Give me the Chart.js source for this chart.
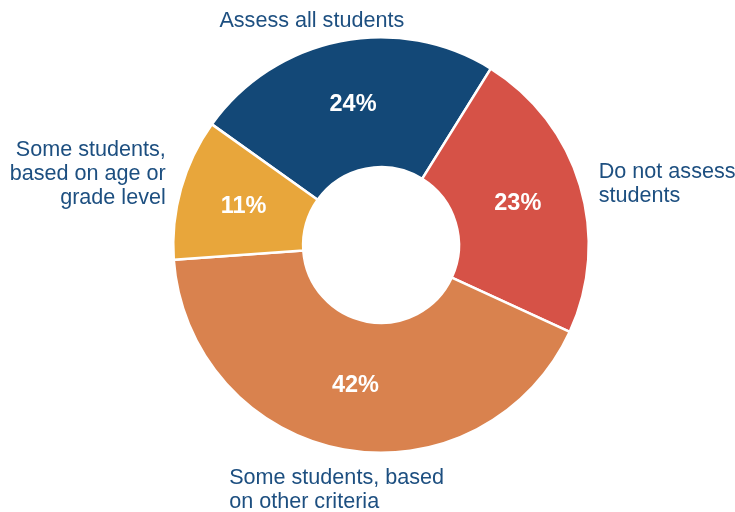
<!DOCTYPE html>
<html>
<head>
<meta charset="utf-8">
<script src="https://cdn.jsdelivr.net/npm/chart.js@4.4.1/dist/chart.umd.min.js"></script>
<style>
html,body{margin:0;padding:0;background:#fff;}
#wrap{width:735px;height:512px;}
</style>
</head>
<body>
<div id="wrap"><canvas id="c" width="735" height="512"></canvas></div>
<script>
const categories = [
  ["Assess all students"],
  ["Do not assess", "students"],
  ["Some students, based", "on other criteria"],
  ["Some students,", "based on age or", "grade level"]
];
const values = [24, 23, 42, 11];
const percentLabels = ["24%", "23%", "42%", "11%"];
const colors = ["#134877", "#d65247", "#d9824e", "#e8a63b"];

const labelColor = "#1d4f80";
const fontFamily = "'Liberation Sans', Arial, Helvetica, sans-serif";

// placement of outer labels relative to the chart centre, in units of outer radius
const outerLabelPlacement = [
  {dx: -0.333, dy: -1.050, align: "center"},
  {dx: 1.048,  dy: -0.323, align: "left"},
  {dx: -0.731, dy: 1.151,  align: "left"},
  {dx: -1.036, dy: -0.430, align: "right"}
];

const labelPlugin = {
  id: "labels",
  afterDatasetsDraw(chart) {
    const ctx = chart.ctx;
    const meta = chart.getDatasetMeta(0);
    ctx.save();
    meta.data.forEach((arc, i) => {
      const p = arc.tooltipPosition();
      ctx.fillStyle = "#ffffff";
      ctx.font = "bold 23.5px " + fontFamily;
      ctx.textAlign = "center";
      ctx.textBaseline = "middle";
      ctx.fillText(percentLabels[i], p.x, p.y);

      const R = arc.outerRadius;
      const pl = outerLabelPlacement[i];
      const x = arc.x + pl.dx * R;
      const y = arc.y + pl.dy * R;
      ctx.fillStyle = labelColor;
      ctx.font = "21.6px " + fontFamily;
      ctx.textAlign = pl.align;
      ctx.textBaseline = "alphabetic";
      chart.data.labels[i].forEach((line, j) => {
        ctx.fillText(line, x, y + j * 24);
      });
    });
    ctx.restore();
  }
};

new Chart(document.getElementById("c"), {
  type: "doughnut",
  data: {
    labels: categories,
    datasets: [{
      data: values,
      backgroundColor: colors,
      borderColor: "#ffffff",
      borderWidth: 2.5,
      hoverOffset: 0
    }]
  },
  options: {
    responsive: false,
    devicePixelRatio: 1,
    animation: false,
    cutout: "37.5%",
    rotation: -54.5,
    layout: {padding: {top: 36, bottom: 58, left: 172, right: 145}},
    plugins: {
      legend: {display: false},
      tooltip: {enabled: false}
    }
  },
  plugins: [labelPlugin]
});
</script>
</body>
</html>
